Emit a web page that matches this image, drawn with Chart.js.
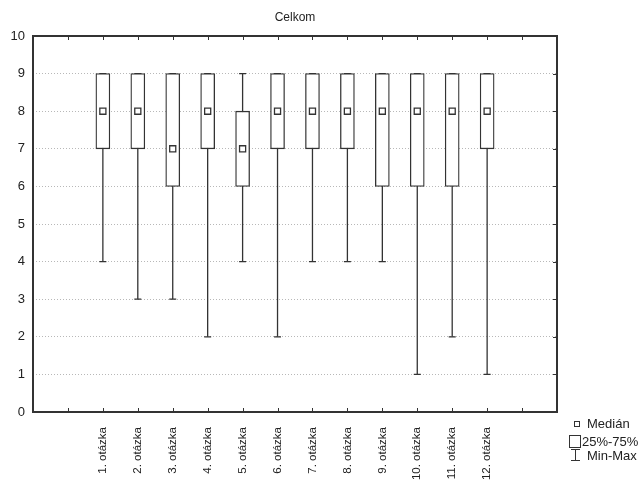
<!DOCTYPE html>
<html>
<head>
<meta charset="utf-8">
<script src="https://cdn.jsdelivr.net/npm/chart.js@4/dist/chart.umd.min.js"></script>
<style>
  html, body { margin: 0; padding: 0; background: #fff; }
</style>
</head>
<body>
<canvas id="chart" width="643" height="481"></canvas>
<script>
// data
const categories = ['1. otázka', '2. otázka', '3. otázka', '4. otázka', '5. otázka', '6. otázka',
                    '7. otázka', '8. otázka', '9. otázka', '10. otázka', '11. otázka', '12. otázka'];
const minValues    = [4, 3, 3, 2, 4, 2, 4, 4, 4, 1, 2, 1];
const q1Values     = [7, 7, 6, 7, 6, 7, 7, 7, 6, 6, 6, 7];
const medianValues = [8, 8, 7, 8, 7, 8, 8, 8, 8, 8, 8, 8];
const q3Values     = [9, 9, 9, 9, 8, 9, 9, 9, 9, 9, 9, 9];
const maxValues    = [9, 9, 9, 9, 9, 9, 9, 9, 9, 9, 9, 9];
const legendLabels = ['Medián', '25%-75%', 'Min-Max'];

const FONT = '"Liberation Sans", Arial, sans-serif';
const INK = '#333';

// two empty slots on each side of the questions
const labels = ['', ''].concat(categories, ['', '']);
const pad = arr => [null, null].concat(arr, [null, null]);

// whiskers: min -> max per question, null breaks the line
const whiskerData = [];
categories.forEach((c, i) => {
  whiskerData.push({x: c, y: minValues[i]});
  whiskerData.push({x: c, y: maxValues[i]});
  whiskerData.push({x: c, y: null});
});

// frame, inward ticks and legend
const framePlugin = {
  id: 'frame',
  afterDraw(chart) {
    const {ctx, chartArea: a, scales: {x, y}} = chart;
    ctx.save();
    ctx.strokeStyle = INK;
    ctx.lineWidth = 2;
    ctx.strokeRect(a.left, a.top, a.right - a.left, a.bottom - a.top);

    ctx.lineWidth = 1;
    ctx.beginPath();
    x.ticks.forEach((t, i) => {
      if (i === 0 || i === x.ticks.length - 1) return;
      const px = Math.round(x.getPixelForTick(i)) + 0.5;
      ctx.moveTo(px, a.bottom); ctx.lineTo(px, a.bottom - 4);
      ctx.moveTo(px, a.top); ctx.lineTo(px, a.top + 4);
    });
    y.ticks.forEach(t => {
      const py = Math.round(y.getPixelForValue(t.value)) + 0.5;
      ctx.moveTo(a.right, py); ctx.lineTo(a.right - 4, py);
    });
    ctx.stroke();

    // legend
    const lx = a.right + 18;
    ctx.font = '13px ' + FONT;
    ctx.fillStyle = '#222';
    ctx.textBaseline = 'middle';
    ctx.textAlign = 'left';
    ctx.strokeStyle = INK;
    ctx.lineWidth = 1;
    // median
    ctx.strokeRect(lx - 0.5, 421.5, 5, 5);
    ctx.fillText(legendLabels[0], lx + 12, 424);
    // box
    ctx.strokeRect(lx - 5.5, 435.5, 11, 12);
    ctx.fillText(legendLabels[1], lx + 7, 442);
    // min-max
    ctx.beginPath();
    ctx.moveTo(lx + 0.5, 449); ctx.lineTo(lx + 0.5, 461);
    ctx.moveTo(lx - 4, 449.5); ctx.lineTo(lx + 5, 449.5);
    ctx.moveTo(lx - 4, 460.5); ctx.lineTo(lx + 5, 460.5);
    ctx.stroke();
    ctx.fillText(legendLabels[2], lx + 12, 456);
    ctx.restore();
  }
};

new Chart(document.getElementById('chart'), {
  type: 'bar',
  data: {
    labels: labels,
    datasets: [
      {
        type: 'line',
        label: 'Medián',
        data: pad(medianValues),
        showLine: false,
        pointStyle: 'rect',
        pointRadius: 4.3,
        pointBackgroundColor: '#fff',
        pointBorderColor: INK,
        pointBorderWidth: 1.3
      },
      {
        type: 'bar',
        label: '25%-75%',
        data: pad(q1Values.map((v, i) => [v, q3Values[i]])),
        backgroundColor: '#fff',
        borderColor: INK,
        borderWidth: 1.3,
        borderSkipped: false,
        barThickness: 14
      },
      {
        type: 'line',
        label: 'Min-Max',
        data: whiskerData,
        borderColor: INK,
        borderWidth: 1.3,
        spanGaps: false,
        pointStyle: 'line',
        pointRadius: 3.5,
        pointBorderColor: INK,
        pointBorderWidth: 1.3
      }
    ]
  },
  options: {
    responsive: false,
    animation: false,
    layout: { padding: { right: 86, left: 0, top: 0, bottom: 0 } },
    plugins: {
      legend: { display: false },
      tooltip: { enabled: false },
      title: {
        display: true,
        text: 'Celkom',
        fullSize: false,
        color: '#222',
        font: { family: FONT, size: 12, weight: 'normal' },
        padding: { top: 10, bottom: 11.6 }
      }
    },
    scales: {
      x: {
        offset: false,
        grid: { display: false },
        border: { display: false },
        ticks: {
          autoSkip: false,
          minRotation: 90,
          maxRotation: 90,
          padding: 7,
          color: '#222',
          font: { family: FONT, size: 11.5 }
        },
        afterFit: s => { s.height = 69; }
      },
      y: {
        min: 0,
        max: 10,
        ticks: {
          stepSize: 1,
          padding: 8,
          color: '#222',
          font: { family: FONT, size: 13 }
        },
        grid: { color: '#b8b8b8', lineWidth: 1, drawTicks: false },
        border: { display: false, dash: [1, 2] },
        afterFit: s => { s.width = 33; }
      }
    }
  },
  plugins: [framePlugin]
});
</script>
</body>
</html>
